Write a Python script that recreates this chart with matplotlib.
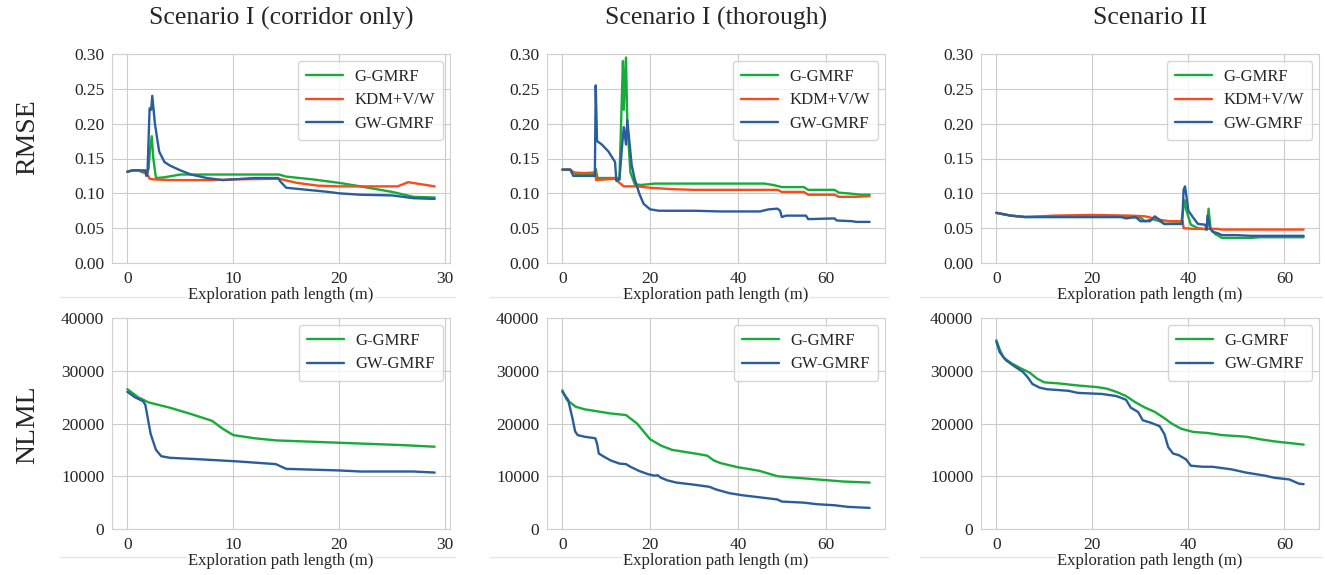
import numpy as np
import matplotlib
matplotlib.use("Agg")
import matplotlib.pyplot as plt
import seaborn as sns
from matplotlib.lines import Line2D

sns.set_style("whitegrid")
plt.rcParams['font.family'] = ['Liberation Serif', 'DejaVu Serif']
plt.rcParams['mathtext.fontset'] = 'stix'

col_titles = ["Scenario I (corridor only)", "Scenario I (thorough)", "Scenario II"]
row_labels = ["RMSE", "NLML"]
xlabel = "Exploration path length (m)"
xticks = [[0, 10, 20, 30], [0, 20, 40, 60], [0, 20, 40, 60]]

GREEN = "#17ab3a"
RED = "#fb4a1a"
BLUE = "#2a5d9b"

# ---------- RMSE, Scenario I (corridor only)
c1_g_x = [0, 0.5, 1.0, 1.8, 2.0, 2.15, 2.3, 2.45, 2.7, 3.5, 5, 8, 14.3, 15, 17.5, 20, 22, 25, 27, 29]
c1_g_y = [0.131, 0.133, 0.133, 0.128, 0.135, 0.165, 0.182, 0.150, 0.122, 0.123, 0.127, 0.127, 0.127, 0.124, 0.120, 0.115, 0.110, 0.102, 0.095, 0.094]
c1_r_x = [0, 0.5, 1.0, 1.8, 2.1, 2.5, 4, 8, 10, 14.3, 16, 18, 20, 25.5, 26.5, 29]
c1_r_y = [0.131, 0.133, 0.133, 0.130, 0.121, 0.120, 0.119, 0.119, 0.120, 0.121, 0.115, 0.111, 0.110, 0.110, 0.116, 0.110]
c1_b_x = [0, 0.5, 1.0, 1.7, 1.8, 1.9, 2.1, 2.25, 2.35, 2.6, 3.0, 3.5, 4, 5, 6, 7.5, 9, 10, 12, 14.2, 14.5, 15, 17, 19, 20, 22, 25, 27, 29]
c1_b_y = [0.131, 0.133, 0.133, 0.133, 0.125, 0.130, 0.222, 0.220, 0.240, 0.200, 0.160, 0.145, 0.140, 0.133, 0.127, 0.122, 0.119, 0.120, 0.122, 0.122, 0.116, 0.108, 0.105, 0.102, 0.100, 0.098, 0.097, 0.093, 0.092]

# ---------- RMSE, Scenario I (thorough)
c2_g_x = [0, 1.8, 3, 7.4, 7.6, 8, 12.5, 13, 13.8, 14.0, 14.5, 14.8, 15.5, 16.5, 18, 21, 46, 48, 50, 55, 56, 62, 63, 65, 68, 70]
c2_g_y = [0.134, 0.134, 0.128, 0.127, 0.135, 0.122, 0.122, 0.120, 0.290, 0.220, 0.295, 0.200, 0.130, 0.113, 0.112, 0.114, 0.114, 0.112, 0.109, 0.109, 0.105, 0.105, 0.101, 0.100, 0.098, 0.098]
c2_r_x = [0, 1.8, 2.5, 5, 7.5, 7.7, 10, 12, 13, 14, 17, 20, 25, 30, 49, 50, 55, 56, 62, 63, 67, 70]
c2_r_y = [0.134, 0.134, 0.130, 0.129, 0.130, 0.119, 0.120, 0.121, 0.115, 0.110, 0.110, 0.108, 0.106, 0.105, 0.105, 0.102, 0.102, 0.098, 0.098, 0.095, 0.095, 0.096]
c2_b_x = [0, 1.8, 2.5, 7.4, 7.6, 7.9, 9, 10.5, 12, 12.3, 13, 13.7, 14, 14.5, 14.8, 15.8, 16.5, 17.5, 18.5, 20, 22, 30, 36, 45, 47, 49, 49.6, 50, 51, 55.5, 56, 62, 62.5, 66, 67, 70]
c2_b_y = [0.134, 0.134, 0.125, 0.125, 0.255, 0.175, 0.170, 0.160, 0.145, 0.118, 0.120, 0.175, 0.195, 0.170, 0.205, 0.140, 0.120, 0.100, 0.085, 0.077, 0.075, 0.075, 0.074, 0.074, 0.077, 0.078, 0.075, 0.066, 0.068, 0.068, 0.063, 0.064, 0.061, 0.060, 0.059, 0.059]

# ---------- RMSE, Scenario II
c3_g_x = [0, 3, 6, 28, 30, 31, 32.5, 34, 35, 38.5, 39.2, 39.6, 40.5, 42, 43.8, 44.2, 44.6, 45.5, 47, 53, 55, 64]
c3_g_y = [0.072, 0.068, 0.066, 0.066, 0.065, 0.060, 0.063, 0.060, 0.056, 0.057, 0.090, 0.075, 0.055, 0.050, 0.048, 0.078, 0.050, 0.042, 0.036, 0.036, 0.037, 0.037]
c3_r_x = [0, 3, 6, 12, 20, 28, 31, 34, 36, 38.8, 39, 41, 46, 47, 64]
c3_r_y = [0.072, 0.068, 0.066, 0.068, 0.069, 0.068, 0.067, 0.062, 0.060, 0.060, 0.050, 0.049, 0.049, 0.048, 0.048]
c3_b_x = [0, 3, 6, 26, 27, 29, 30, 32, 33, 34, 35, 38.7, 39, 39.3, 40, 41, 42, 43.5, 43.8, 44, 44.5, 45, 46, 47, 50, 53, 55, 64]
c3_b_y = [0.072, 0.068, 0.066, 0.066, 0.064, 0.066, 0.060, 0.060, 0.067, 0.062, 0.056, 0.056, 0.105, 0.110, 0.075, 0.065, 0.056, 0.055, 0.048, 0.068, 0.050, 0.045, 0.043, 0.040, 0.040, 0.039, 0.039, 0.039]

# ---------- NLML, Scenario I (corridor only)
n1_g_x = [0, 1, 2, 4, 6, 8, 9, 10, 12, 14, 18, 22, 26, 29]
n1_g_y = [26500, 25000, 24000, 23000, 21800, 20500, 19000, 17800, 17200, 16800, 16500, 16200, 15900, 15600]
n1_b_x = [0, 0.7, 1.5, 1.7, 2.2, 2.7, 3.2, 4, 7, 10.5, 14, 15, 20, 22, 27, 29]
n1_b_y = [26000, 25000, 24200, 23500, 18000, 15000, 13800, 13500, 13200, 12800, 12300, 11400, 11100, 10900, 10900, 10700]

# ---------- NLML, Scenario I (thorough)
n2_g_x = [0, 1, 3, 5, 8, 11, 14.5, 17, 19, 20, 22.5, 25, 28, 31, 33, 34.5, 36, 40, 43, 45, 47, 49, 52, 58, 64, 70]
n2_g_y = [26300, 24500, 23200, 22700, 22300, 21900, 21600, 20000, 18000, 17000, 15800, 15000, 14600, 14200, 13900, 13000, 12500, 11700, 11300, 11000, 10500, 10000, 9800, 9400, 9000, 8800]
n2_b_x = [0, 1.3, 2.3, 2.9, 3.5, 5, 7.5, 7.9, 8.3, 9.5, 11, 13, 14.5, 15.5, 17.5, 19.5, 21, 21.7, 22.5, 24, 26, 30, 33.5, 35, 38, 41, 44, 47, 49, 50, 55, 58, 62, 65, 70]
n2_b_y = [26000, 24500, 21000, 18500, 17800, 17500, 17200, 16200, 14300, 13700, 13000, 12400, 12300, 11800, 11000, 10400, 10100, 10200, 9700, 9200, 8800, 8400, 8000, 7500, 6800, 6400, 6100, 5800, 5600, 5200, 5000, 4700, 4500, 4200, 4000]

# ---------- NLML, Scenario II
n3_g_x = [0, 0.7, 1.5, 3, 5, 7, 8.5, 10, 13, 17, 21, 23, 25, 27, 29, 31, 33, 35, 36.5, 38.5, 41, 44, 47, 52, 55, 58, 62, 64]
n3_g_y = [35800, 34000, 32500, 31500, 30500, 29600, 28500, 27800, 27600, 27200, 26900, 26600, 26000, 25200, 24000, 23000, 22200, 21000, 20000, 19000, 18400, 18200, 17800, 17500, 17000, 16600, 16200, 16000]
n3_b_x = [0, 0.7, 2, 3.5, 5.5, 6.5, 7.5, 9, 10.5, 15, 17, 22, 25, 27, 28, 29.5, 30.5, 32, 34, 35, 35.8, 36.8, 38, 39.5, 40.5, 43, 45, 49, 52, 56, 58, 61, 63, 64]
n3_b_y = [35500, 33500, 32000, 31000, 29800, 28800, 27500, 26800, 26500, 26200, 25800, 25600, 25200, 24500, 23000, 22200, 20600, 20200, 19500, 18000, 15500, 14300, 14000, 13200, 12000, 11800, 11800, 11300, 10700, 10100, 9700, 9400, 8600, 8500]

rmse_data = [
    [(c1_g_x, c1_g_y), (c1_r_x, c1_r_y), (c1_b_x, c1_b_y)],
    [(c2_g_x, c2_g_y), (c2_r_x, c2_r_y), (c2_b_x, c2_b_y)],
    [(c3_g_x, c3_g_y), (c3_r_x, c3_r_y), (c3_b_x, c3_b_y)],
]
nlml_data = [
    [(n1_g_x, n1_g_y), (n1_b_x, n1_b_y)],
    [(n2_g_x, n2_g_y), (n2_b_x, n2_b_y)],
    [(n3_g_x, n3_g_y), (n3_b_x, n3_b_y)],
]
rmse_names = ["G-GMRF", "KDM+V/W", "GW-GMRF"]
rmse_colors = [GREEN, RED, BLUE]
nlml_names = ["G-GMRF", "GW-GMRF"]
nlml_colors = [GREEN, BLUE]

W, H = 1325, 575
fig = plt.figure(figsize=(W / 100, H / 100), dpi=100)

lefts = [112, 547, 981]
aw = 338
rows = [(54, 263), (318, 529)]

FS = 12.5
for i in range(3):
    for r in range(2):
        top, bot = rows[r]
        ax = fig.add_axes([lefts[i] / W, 1 - bot / H, aw / W, (bot - top) / H])
        if r == 0:
            for (x, y), n, c in zip(rmse_data[i], rmse_names, rmse_colors):
                ax.plot(x, y, color=c, lw=1.7, label=n)
            ax.set_ylim(0, 0.30)
            ax.set_yticks(np.arange(0, 0.31, 0.05))
            ax.set_yticklabels(["%.2f" % v for v in np.arange(0, 0.31, 0.05)])
        else:
            for (x, y), n, c in zip(nlml_data[i], nlml_names, nlml_colors):
                ax.plot(x, y, color=c, lw=1.7, label=n)
            ax.set_ylim(0, 40000)
            ax.set_yticks([0, 10000, 20000, 30000, 40000])
        ax.set_xticks(xticks[i])
        ax.tick_params(labelsize=FS, pad=2)
        ax.set_xlabel(xlabel, fontsize=12, labelpad=0.5,
                      bbox=dict(facecolor="white", edgecolor="none", pad=1))
        ax.legend(loc="upper right", fontsize=12, handlelength=2.2, borderpad=0.5,
                  labelspacing=0.45, handletextpad=0.7, borderaxespad=0.4)
        for s in ax.spines.values():
            s.set_color("#d0d0d0")
    fig.text((lefts[i] + aw / 2) / W, 1 - 18 / H, col_titles[i], ha="center", va="center", fontsize=18.5)

fig.text(28 / W, 1 - 137 / H, row_labels[0], rotation=90, ha="center", va="center", fontsize=20)
fig.text(28 / W, 1 - 425 / H, row_labels[1], rotation=90, ha="center", va="center", fontsize=20)

# faint separators under each panel
for x0, x1 in [(60, 455), (490, 888), (920, 1322)]:
    for yy in (297, 557):
        fig.add_artist(Line2D([x0 / W, x1 / W], [1 - yy / H, 1 - yy / H], color="#e6e6e6", lw=1, zorder=-5))

fig.savefig("out.png", dpi=100)
